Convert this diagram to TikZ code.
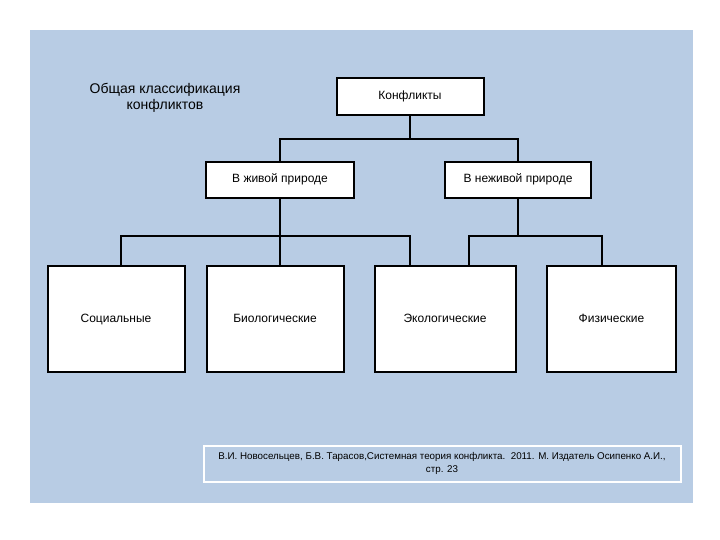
\documentclass[tikz,border=0pt]{standalone}
\usepackage{fontspec}
\setmainfont{Liberation Sans}
\definecolor{bgblue}{HTML}{B8CCE4}
\begin{document}
\begin{tikzpicture}[x=1pt,y=-1pt,
  box/.style={draw=black,line width=2pt,fill=white,inner sep=0pt,text height=8.5pt,text depth=2.5pt,font=\fontsize{12}{14}\selectfont},
  conn/.style={draw=black,line width=1.6pt}]
\useasboundingbox (0,0) rectangle (720,540);
\fill[white] (0,0) rectangle (720,540);
\fill[bgblue] (30,30) rectangle (693,503);
% title
\node[align=center,font=\fontsize{14}{16.5}\selectfont] (title) at (165,98) {Общая классификация\\конфликтов};
% boxes
\node[box,minimum width=147pt,minimum height=37pt] (k) at (410,96.5) {Конфликты};
\node[box,minimum width=148pt,minimum height=36pt] (zh) at (280,180) {В живой природе};
\node[box,minimum width=146pt,minimum height=36pt] (nzh) at (518,180) {В неживой природе};
\node[box,minimum width=137pt,minimum height=106pt] (soc) at (116,319) {Социальные};
\node[box,minimum width=137pt,minimum height=106pt] (bio) at (275,319) {Биологические};
\node[box,minimum width=141pt,minimum height=106pt] (eko) at (445,319) {Экологические};
\node[box,minimum width=129pt,minimum height=106pt] (fiz) at (611.5,319) {Физические};
% junction coordinates
\coordinate (j1) at (410,139);
\coordinate (j2) at (280,236);
\coordinate (j3) at (518,236);
% connectors
\draw[conn] (k.south) -- (j1);
\draw[conn] (zh.north) |- (j1) -| (nzh.north);
\draw[conn] (zh.south) -- (j2);
\draw[conn] (soc.north -| 121,0) |- (j2) -| (eko.north -| 410,0);
\draw[conn] (j2) -- (bio.north -| j2);
\draw[conn] (nzh.south) -- (j3);
\draw[conn] (eko.north -| 469,0) |- (j3) -| (fiz.north -| 602,0);
% citation
\node[draw=white,line width=2pt,fill=bgblue,minimum width=477pt,minimum height=36pt,inner sep=0pt] (cit) at (442,463.5) {};
\node[align=center,font=\fontsize{9.8}{13}\selectfont] (cittext) at (cit.center) {В.И. Новосельцев, Б.В. Тарасов,Системная теория конфликта.\ \ 2011. М. Издатель Осипенко А.И.,\\стр. 23};
\end{tikzpicture}
\end{document}
